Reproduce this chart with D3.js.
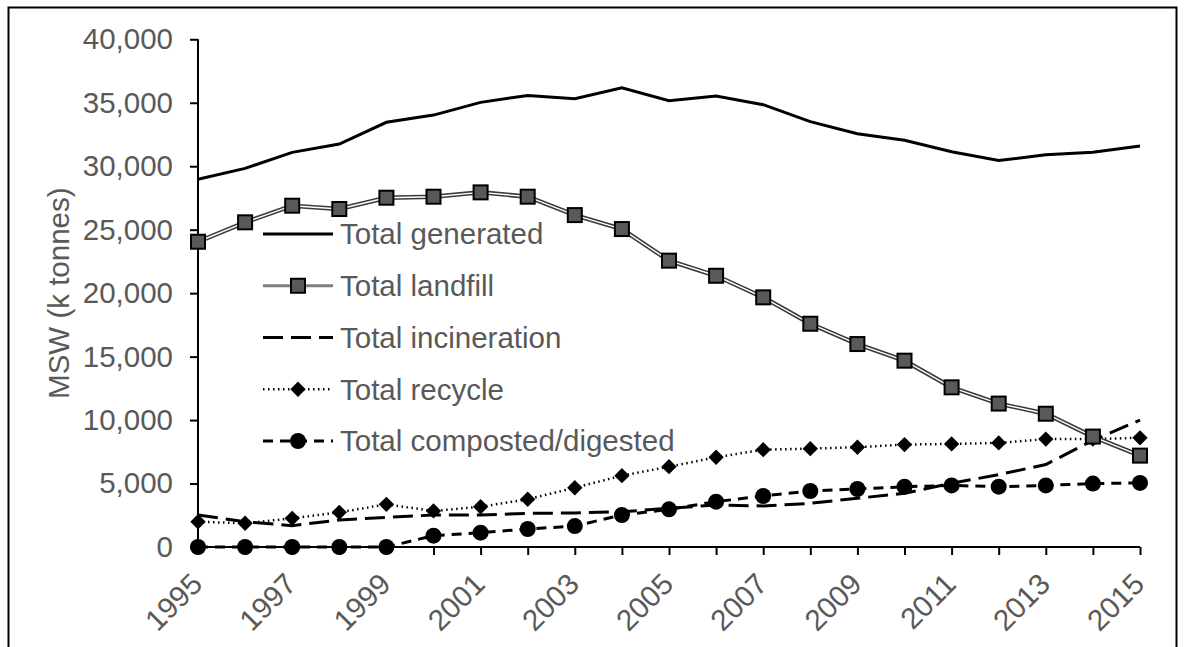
<!DOCTYPE html>
<html>
<head>
<meta charset="utf-8">
<script src="https://cdn.jsdelivr.net/npm/d3@7"></script>
<style>
  body { margin: 0; background: #fff; }
  svg { display: block; }
  text { font-family: "Liberation Sans", Arial, sans-serif; fill: #595959; }
</style>
</head>
<body>
<svg id="chart" width="1188" height="647"></svg>
<script>
// data
const years = d3.range(1995, 2016);
const yTicks = [0, 5000, 10000, 15000, 20000, 25000, 30000, 35000, 40000];
const xLabelYears = [1995, 1997, 1999, 2001, 2003, 2005, 2007, 2009, 2011, 2013, 2015];

const generated = [28970, 29830, 31090, 31750, 33460, 34030, 35030, 35580, 35320, 36180,
  35160, 35530, 34850, 33510, 32560, 32040, 31140, 30450, 30900, 31100, 31600];
const landfill = [24050, 25580, 26890, 26630, 27520, 27600, 27940, 27600, 26150, 25050,
  22560, 21370, 19670, 17590, 15990, 14680, 12580, 11300, 10500, 8700, 7200];
const incineration = [2520, 1990, 1680, 2130, 2340, 2520, 2520, 2650, 2680, 2780,
  3050, 3310, 3230, 3440, 3840, 4230, 5020, 5700, 6500, 8400, 10000];
const recycle = [1990, 1870, 2260, 2730, 3360, 2840, 3170, 3760, 4670, 5620,
  6330, 7070, 7670, 7750, 7860, 8070, 8120, 8200, 8500, 8500, 8600];
const composted = [0, 0, 0, 0, 0, 890, 1130, 1420, 1650, 2520,
  2970, 3570, 4020, 4410, 4570, 4750, 4850, 4750, 4850, 5000, 5050];

const seriesNames = ["Total generated", "Total landfill", "Total incineration", "Total recycle", "Total composted/digested"];

const fontSize = "29.5px";
const svg = d3.select("#chart");

// outer frame
svg.append("rect")
  .attr("x", 8.5).attr("y", 7.5)
  .attr("width", 1168).attr("height", 700)
  .attr("fill", "none").attr("stroke", "#000").attr("stroke-width", 2);

const x = d3.scaleLinear().domain([1995, 2015]).range([198, 1140]);
const y = d3.scaleLinear().domain([0, 40000]).range([547, 39.3]);

// y axis
const yAxis = svg.append("g")
  .attr("transform", "translate(198,0)")
  .call(d3.axisLeft(y).tickValues(yTicks).tickSize(8).tickPadding(17).tickFormat(d3.format(",")));
yAxis.selectAll("line, path").attr("stroke", "#000").attr("stroke-width", 2);
yAxis.select(".domain").attr("d", `M0,${y(40000)}V${y(0)}`);
yAxis.selectAll("text").style("font-size", fontSize).attr("fill", "#595959")
  .style("font-family", '"Liberation Sans", Arial, sans-serif');

svg.append("text")
  .attr("transform", `translate(69,${(y(0) + y(40000)) / 2}) rotate(-90)`)
  .attr("text-anchor", "middle")
  .style("font-size", fontSize)
  .text("MSW (k tonnes)");

// x axis
const xAxis = svg.append("g")
  .attr("transform", "translate(0,547)")
  .call(d3.axisBottom(x).tickValues(years).tickSize(8).tickFormat(""));
xAxis.selectAll("line, path").attr("stroke", "#000").attr("stroke-width", 2);
xAxis.select(".domain").attr("d", `M${x(1995)},0H${x(2015)}`);
xAxis.selectAll(".tick").filter(d => d === 1995).select("line").remove();

svg.selectAll(".xlab")
  .data(xLabelYears)
  .enter().append("text")
  .attr("class", "xlab")
  .attr("transform", d => `translate(${x(d) + 6},586) rotate(-45)`)
  .attr("text-anchor", "end")
  .style("font-size", fontSize)
  .text(d => d);

const line = d3.line().x((d, i) => x(years[i])).y(d => y(d));
const plot = svg.append("g");

// incineration (long dash, no markers)
plot.append("path").attr("d", line(incineration))
  .attr("fill", "none").attr("stroke", "#000").attr("stroke-width", 3)
  .attr("stroke-dasharray", "20,8");

// composted (short dash, circles)
plot.append("path").attr("d", line(composted))
  .attr("fill", "none").attr("stroke", "#000").attr("stroke-width", 3)
  .attr("stroke-dasharray", "10,7");

// recycle (dotted, diamonds)
plot.append("path").attr("d", line(recycle))
  .attr("fill", "none").attr("stroke", "#000").attr("stroke-width", 2.5)
  .attr("stroke-dasharray", "1.5,3.5");

// generated (solid)
plot.append("path").attr("d", line(generated))
  .attr("fill", "none").attr("stroke", "#000").attr("stroke-width", 3);

// landfill (double line, squares)
plot.append("path").attr("d", line(landfill))
  .attr("fill", "none").attr("stroke", "#3a3a3a").attr("stroke-width", 4.5);
plot.append("path").attr("d", line(landfill))
  .attr("fill", "none").attr("stroke", "#fff").attr("stroke-width", 1.4);

const diamond = d3.symbol().type(d3.symbolDiamond2).size(150);

function drawSquare(g, cx, cy) {
  g.append("rect").attr("x", cx - 7).attr("y", cy - 7).attr("width", 14).attr("height", 14)
    .attr("fill", "#595959").attr("stroke", "#000").attr("stroke-width", 2);
}
function drawDiamond(g, cx, cy) {
  g.append("path").attr("d", diamond).attr("transform", `translate(${cx},${cy})`).attr("fill", "#000");
}
function drawCircle(g, cx, cy) {
  g.append("circle").attr("cx", cx).attr("cy", cy).attr("r", 8).attr("fill", "#000");
}

composted.forEach((v, i) => drawCircle(plot, x(years[i]), y(v)));
recycle.forEach((v, i) => drawDiamond(plot, x(years[i]), y(v)));
landfill.forEach((v, i) => drawSquare(plot, x(years[i]), y(v)));

// legend
const legend = svg.append("g");
const legY = d3.scalePoint().domain(seriesNames).range([234, 441]);
const lx0 = 263, lx1 = 333, lmid = 298;

seriesNames.forEach((name, i) => {
  const ly = legY(name);
  const g = legend.append("g");
  if (i === 1) {
    g.append("line").attr("x1", lx0).attr("x2", lx1).attr("y1", ly).attr("y2", ly)
      .attr("stroke", "#7f7f7f").attr("stroke-width", 3);
    drawSquare(g, lmid, ly);
  } else {
    const ln = g.append("line").attr("x1", lx0).attr("x2", lx1).attr("y1", ly).attr("y2", ly)
      .attr("stroke", "#000").attr("stroke-width", 3);
    if (i === 2) ln.attr("stroke-dasharray", "20,8");
    if (i === 3) ln.attr("stroke-width", 2.5).attr("stroke-dasharray", "1.5,3.5");
    if (i === 4) ln.attr("stroke-dasharray", "10,7");
    if (i === 3) drawDiamond(g, lmid, ly);
    if (i === 4) drawCircle(g, lmid, ly);
  }
  g.append("text").attr("x", 340).attr("y", ly).attr("dy", "0.35em")
    .style("font-size", fontSize).text(name);
});
</script>
</body>
</html>
